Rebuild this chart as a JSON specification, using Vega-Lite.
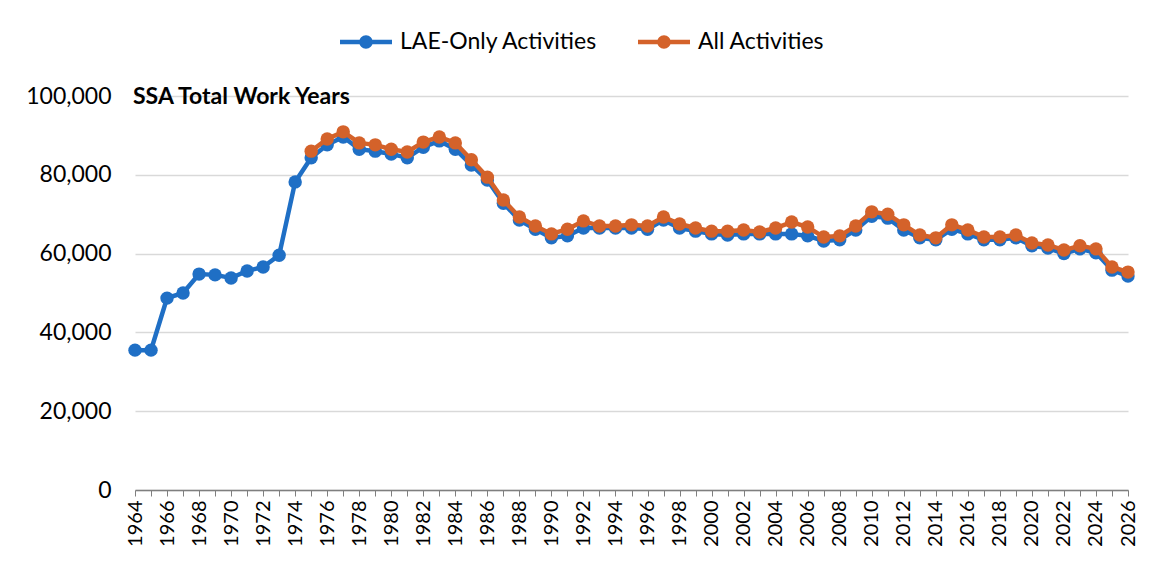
{
  "$schema": "https://vega.github.io/schema/vega-lite/v6.json",
  "width": 993,
  "height": 394,
  "autosize": {"type": "none"},
  "padding": {"left": 135, "top": 96, "right": 26, "bottom": 87},
  "background": "white",
  "data": {"values": [
    {"year":1964,"series":"LAE-Only Activities","value":35500},
    {"year":1965,"series":"LAE-Only Activities","value":35500},
    {"year":1966,"series":"LAE-Only Activities","value":48700},
    {"year":1967,"series":"LAE-Only Activities","value":50000},
    {"year":1968,"series":"LAE-Only Activities","value":54800},
    {"year":1969,"series":"LAE-Only Activities","value":54600},
    {"year":1970,"series":"LAE-Only Activities","value":53800},
    {"year":1971,"series":"LAE-Only Activities","value":55600},
    {"year":1972,"series":"LAE-Only Activities","value":56600},
    {"year":1973,"series":"LAE-Only Activities","value":59600},
    {"year":1974,"series":"LAE-Only Activities","value":78200},
    {"year":1975,"series":"LAE-Only Activities","value":84300},
    {"year":1976,"series":"LAE-Only Activities","value":87600},
    {"year":1977,"series":"LAE-Only Activities","value":89600},
    {"year":1978,"series":"LAE-Only Activities","value":86500},
    {"year":1979,"series":"LAE-Only Activities","value":86000},
    {"year":1980,"series":"LAE-Only Activities","value":85300},
    {"year":1981,"series":"LAE-Only Activities","value":84300},
    {"year":1982,"series":"LAE-Only Activities","value":87000},
    {"year":1983,"series":"LAE-Only Activities","value":88600},
    {"year":1984,"series":"LAE-Only Activities","value":86500},
    {"year":1985,"series":"LAE-Only Activities","value":82500},
    {"year":1986,"series":"LAE-Only Activities","value":78700},
    {"year":1987,"series":"LAE-Only Activities","value":72800},
    {"year":1988,"series":"LAE-Only Activities","value":68500},
    {"year":1989,"series":"LAE-Only Activities","value":66200},
    {"year":1990,"series":"LAE-Only Activities","value":64000},
    {"year":1991,"series":"LAE-Only Activities","value":64500},
    {"year":1992,"series":"LAE-Only Activities","value":66500},
    {"year":1993,"series":"LAE-Only Activities","value":66500},
    {"year":1994,"series":"LAE-Only Activities","value":66500},
    {"year":1995,"series":"LAE-Only Activities","value":66500},
    {"year":1996,"series":"LAE-Only Activities","value":66200},
    {"year":1997,"series":"LAE-Only Activities","value":68500},
    {"year":1998,"series":"LAE-Only Activities","value":66500},
    {"year":1999,"series":"LAE-Only Activities","value":65700},
    {"year":2000,"series":"LAE-Only Activities","value":65000},
    {"year":2001,"series":"LAE-Only Activities","value":64700},
    {"year":2002,"series":"LAE-Only Activities","value":65000},
    {"year":2003,"series":"LAE-Only Activities","value":65000},
    {"year":2004,"series":"LAE-Only Activities","value":65000},
    {"year":2005,"series":"LAE-Only Activities","value":65000},
    {"year":2006,"series":"LAE-Only Activities","value":64500},
    {"year":2007,"series":"LAE-Only Activities","value":63200},
    {"year":2008,"series":"LAE-Only Activities","value":63500},
    {"year":2009,"series":"LAE-Only Activities","value":66000},
    {"year":2010,"series":"LAE-Only Activities","value":69500},
    {"year":2011,"series":"LAE-Only Activities","value":69000},
    {"year":2012,"series":"LAE-Only Activities","value":66000},
    {"year":2013,"series":"LAE-Only Activities","value":64000},
    {"year":2014,"series":"LAE-Only Activities","value":63500},
    {"year":2015,"series":"LAE-Only Activities","value":66200},
    {"year":2016,"series":"LAE-Only Activities","value":65000},
    {"year":2017,"series":"LAE-Only Activities","value":63500},
    {"year":2018,"series":"LAE-Only Activities","value":63500},
    {"year":2019,"series":"LAE-Only Activities","value":64000},
    {"year":2020,"series":"LAE-Only Activities","value":62000},
    {"year":2021,"series":"LAE-Only Activities","value":61400},
    {"year":2022,"series":"LAE-Only Activities","value":60000},
    {"year":2023,"series":"LAE-Only Activities","value":61200},
    {"year":2024,"series":"LAE-Only Activities","value":60200},
    {"year":2025,"series":"LAE-Only Activities","value":55800},
    {"year":2026,"series":"LAE-Only Activities","value":54300},
    {"year":1975,"series":"All Activities","value":86000},
    {"year":1976,"series":"All Activities","value":89100},
    {"year":1977,"series":"All Activities","value":90900},
    {"year":1978,"series":"All Activities","value":88100},
    {"year":1979,"series":"All Activities","value":87600},
    {"year":1980,"series":"All Activities","value":86500},
    {"year":1981,"series":"All Activities","value":85800},
    {"year":1982,"series":"All Activities","value":88300},
    {"year":1983,"series":"All Activities","value":89600},
    {"year":1984,"series":"All Activities","value":88100},
    {"year":1985,"series":"All Activities","value":83800},
    {"year":1986,"series":"All Activities","value":79400},
    {"year":1987,"series":"All Activities","value":73600},
    {"year":1988,"series":"All Activities","value":69300},
    {"year":1989,"series":"All Activities","value":67000},
    {"year":1990,"series":"All Activities","value":65000},
    {"year":1991,"series":"All Activities","value":66200},
    {"year":1992,"series":"All Activities","value":68300},
    {"year":1993,"series":"All Activities","value":67000},
    {"year":1994,"series":"All Activities","value":67000},
    {"year":1995,"series":"All Activities","value":67300},
    {"year":1996,"series":"All Activities","value":67000},
    {"year":1997,"series":"All Activities","value":69300},
    {"year":1998,"series":"All Activities","value":67500},
    {"year":1999,"series":"All Activities","value":66500},
    {"year":2000,"series":"All Activities","value":65700},
    {"year":2001,"series":"All Activities","value":65700},
    {"year":2002,"series":"All Activities","value":66000},
    {"year":2003,"series":"All Activities","value":65500},
    {"year":2004,"series":"All Activities","value":66500},
    {"year":2005,"series":"All Activities","value":68000},
    {"year":2006,"series":"All Activities","value":66750},
    {"year":2007,"series":"All Activities","value":64200},
    {"year":2008,"series":"All Activities","value":64500},
    {"year":2009,"series":"All Activities","value":67000},
    {"year":2010,"series":"All Activities","value":70600},
    {"year":2011,"series":"All Activities","value":70000},
    {"year":2012,"series":"All Activities","value":67300},
    {"year":2013,"series":"All Activities","value":64700},
    {"year":2014,"series":"All Activities","value":64000},
    {"year":2015,"series":"All Activities","value":67300},
    {"year":2016,"series":"All Activities","value":66000},
    {"year":2017,"series":"All Activities","value":64200},
    {"year":2018,"series":"All Activities","value":64200},
    {"year":2019,"series":"All Activities","value":64700},
    {"year":2020,"series":"All Activities","value":62700},
    {"year":2021,"series":"All Activities","value":62200},
    {"year":2022,"series":"All Activities","value":60900},
    {"year":2023,"series":"All Activities","value":62000},
    {"year":2024,"series":"All Activities","value":61200},
    {"year":2025,"series":"All Activities","value":56600},
    {"year":2026,"series":"All Activities","value":55300}
  ]},
  "encoding": {
    "x": {"field": "year", "type": "quantitative",
      "scale": {"domain": [1964, 2026], "nice": false, "zero": false},
      "axis": {"title": null,
        "values": [1964,1965,1966,1967,1968,1969,1970,1971,1972,1973,1974,1975,1976,1977,1978,1979,1980,1981,1982,1983,1984,1985,1986,1987,1988,1989,1990,1991,1992,1993,1994,1995,1996,1997,1998,1999,2000,2001,2002,2003,2004,2005,2006,2007,2008,2009,2010,2011,2012,2013,2014,2015,2016,2017,2018,2019,2020,2021,2022,2023,2024,2025,2026],
        "labelExpr": "datum.value % 2 == 0 ? format(datum.value, 'd') : ''",
        "labelAngle": 270, "labelAlign": "right", "labelBaseline": "middle",
        "labelFontSize": 20, "labelFont": "Lato", "labelColor": "#000000",
        "labelPadding": 4, "labelOverlap": false, "labelBound": false, "labelFlush": false,
        "grid": false, "domainColor": "#7f7f7f", "domainWidth": 1.5, "tickColor": "#7f7f7f", "tickSize": 6, "tickWidth": 1}},
    "y": {"field": "value", "type": "quantitative",
      "scale": {"domain": [0, 100000], "nice": false},
      "axis": {"title": null, "values": [0, 20000, 40000, 60000, 80000, 100000], "format": ",d",
        "labelFontSize": 23, "labelFont": "Lato", "labelColor": "#000000", "labelPadding": 24,
        "domain": false, "ticks": false, "grid": true, "gridColor": "#d9d9d9", "gridWidth": 1.5}},
    "color": {"field": "series", "type": "nominal",
      "scale": {"domain": ["LAE-Only Activities", "All Activities"], "range": ["#1f6fc5", "#d4622a"]},
      "legend": {"title": null, "orient": "none", "legendX": 205, "legendY": -80, "direction": "horizontal",
         "symbolType": "M-1,-0.09 L-0.22,-0.09 L-0.22,0.09 L-1,0.09 Z M0.22,-0.09 L1,-0.09 L1,0.09 L0.22,0.09 Z M-0.26,0 A0.26,0.26 0 1,1 0.26,0 A0.26,0.26 0 1,1 -0.26,0 Z",
         "symbolSize": 2704, "symbolStrokeWidth": 0, "symbolOpacity": 1,
         "labelFontSize": 23, "labelFont": "Lato", "labelColor": "#000000", "labelOffset": 8, "labelLimit": 400,
         "columnPadding": 40, "padding": 0}}
  },
  "layer": [
    {"transform": [{"filter": "datum.series == 'LAE-Only Activities'"}],
     "mark": {"type": "line", "strokeWidth": 4.5}},
    {"transform": [{"filter": "datum.series == 'LAE-Only Activities'"}],
     "mark": {"type": "point", "filled": true, "size": 180, "opacity": 1}},
    {"transform": [{"filter": "datum.series == 'All Activities'"}],
     "mark": {"type": "line", "strokeWidth": 4.5}},
    {"transform": [{"filter": "datum.series == 'All Activities'"}],
     "mark": {"type": "point", "filled": true, "size": 180, "opacity": 1}},
    {"data": {"values": [{"year": 1964, "value": 100000, "label": "SSA Total Work Years"}]},
     "mark": {"type": "text", "align": "left", "baseline": "middle", "dx": -2, "dy": 1,
      "font": "Lato", "fontSize": 23, "fontWeight": "bold"},
     "encoding": {"text": {"field": "label", "type": "nominal"}, "color": {"value": "#000000"}}}
  ],
  "config": {"view": {"stroke": null}}
}
